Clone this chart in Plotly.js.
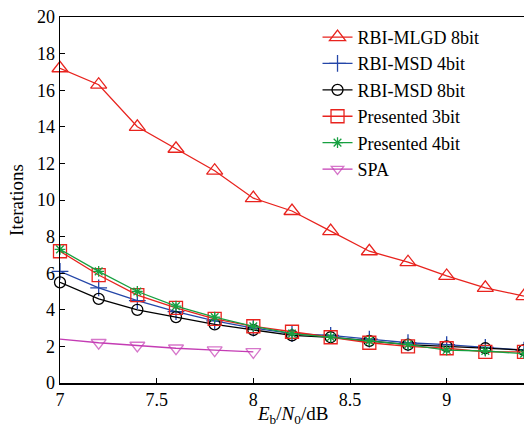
<!DOCTYPE html>
<html><head><meta charset="utf-8">
<script src="https://cdn.plot.ly/plotly-3.0.1.min.js"></script>
<style>html,body{margin:0;padding:0;background:#fff}</style>
</head><body><div id="chart" style="width:524px;height:425px"></div>
<script>
const snr = [7.0, 7.2, 7.4, 7.6, 7.8, 8.0, 8.2, 8.4, 8.6, 8.8, 9.0, 9.2, 9.4];
const snrSPA = [7.0, 7.2, 7.4, 7.6, 7.8, 8.0];
const mlgd8 = [17.2, 16.3, 14.0, 12.8, 11.6, 10.1, 9.4, 8.3, 7.2, 6.6, 5.85, 5.2, 4.75];
const msd4 = [6.1, 5.2, 4.5, 3.9, 3.4, 3.0, 2.7, 2.6, 2.4, 2.2, 2.1, 1.95, 1.8];
const msd8 = [5.5, 4.6, 4.0, 3.6, 3.2, 2.9, 2.6, 2.5, 2.3, 2.1, 2.0, 1.9, 1.8];
const pres3 = [7.2, 5.9, 4.8, 4.1, 3.5, 3.1, 2.8, 2.5, 2.2, 2.0, 1.9, 1.7, 1.7];
const pres4 = [7.3, 6.1, 5.0, 4.2, 3.6, 3.1, 2.7, 2.5, 2.3, 2.1, 1.8, 1.75, 1.6];
const spa = [2.4, 2.2, 2.05, 1.9, 1.8, 1.7];
const names = ['RBI-MLGD 8bit', 'RBI-MSD 4bit', 'RBI-MSD 8bit', 'Presented 3bit', 'Presented 4bit', 'SPA'];
const xTitle = '<i>E</i><sub>b</sub>/<i>N</i><sub>0</sub>/dB';

const F = 'Liberation Serif, Times New Roman, serif';
function tr(x, y, name, color, symbol, size) {
  return {
    x: x, y: y, name: name, type: 'scatter', mode: 'lines+markers', cliponaxis: false,
    line: {color: color, width: 1.3},
    marker: {symbol: symbol, size: size, color: color, line: {color: color, width: 1.3}}
  };
}
const data = [
  tr(snr, mlgd8, names[0], '#e8231e', 'triangle-up-open', 14),
  tr(snr, msd4, names[1], '#2446a8', 'cross-thin-open', 12),
  tr(snr, msd8, names[2], '#000000', 'circle-open', 11),
  tr(snr, pres3, names[3], '#e8231e', 'square-open', 13),
  tr(snr, pres4, names[4], '#17a040', 'asterisk-open', 9),
  tr(snrSPA, spa, names[5], '#c43cb4', 'triangle-down-open', 13)
];
data[5].marker.size = [0, 13, 13, 13, 13, 13];
const layout = {
  width: 524, height: 425,
  margin: {l: 60, r: 0, t: 17, b: 42},
  paper_bgcolor: '#fff', plot_bgcolor: '#fff',
  font: {family: F, size: 18, color: '#000'},
  showlegend: true,
  legend: {x: 0.555, y: 0.995, xanchor: 'left', yanchor: 'top', bgcolor: 'rgba(255,255,255,0)',
           font: {family: F, size: 18}, tracegroupgap: 0},
  xaxis: {range: [7, 9.4], tickvals: [7, 7.5, 8, 8.5, 9], ticktext: ['7', '7.5', '8', '8.5', '9'],
          ticks: 'inside', ticklen: 5, tickcolor: '#000', showline: true, linecolor: '#000', linewidth: 1.5,
          mirror: true, showgrid: false, zeroline: false,
          tickfont: {family: F, size: 18}},
  yaxis: {range: [0, 20], dtick: 2, ticks: 'inside', ticklen: 5, tickcolor: '#000',
          showline: true, linecolor: '#000', linewidth: 1.5, showgrid: false, zeroline: false,
          tickfont: {family: F, size: 18},
          title: {text: 'Iterations', font: {family: F, size: 19}, standoff: 8}},
  annotations: [{text: xTitle, xref: 'paper', yref: 'paper', x: 0.5, y: 0, xanchor: 'center', yanchor: 'top',
                 yshift: -18, showarrow: false, font: {family: F, size: 19}}]
};
Plotly.newPlot('chart', data, layout, {displayModeBar: false, staticPlot: true});
</script></body></html>
